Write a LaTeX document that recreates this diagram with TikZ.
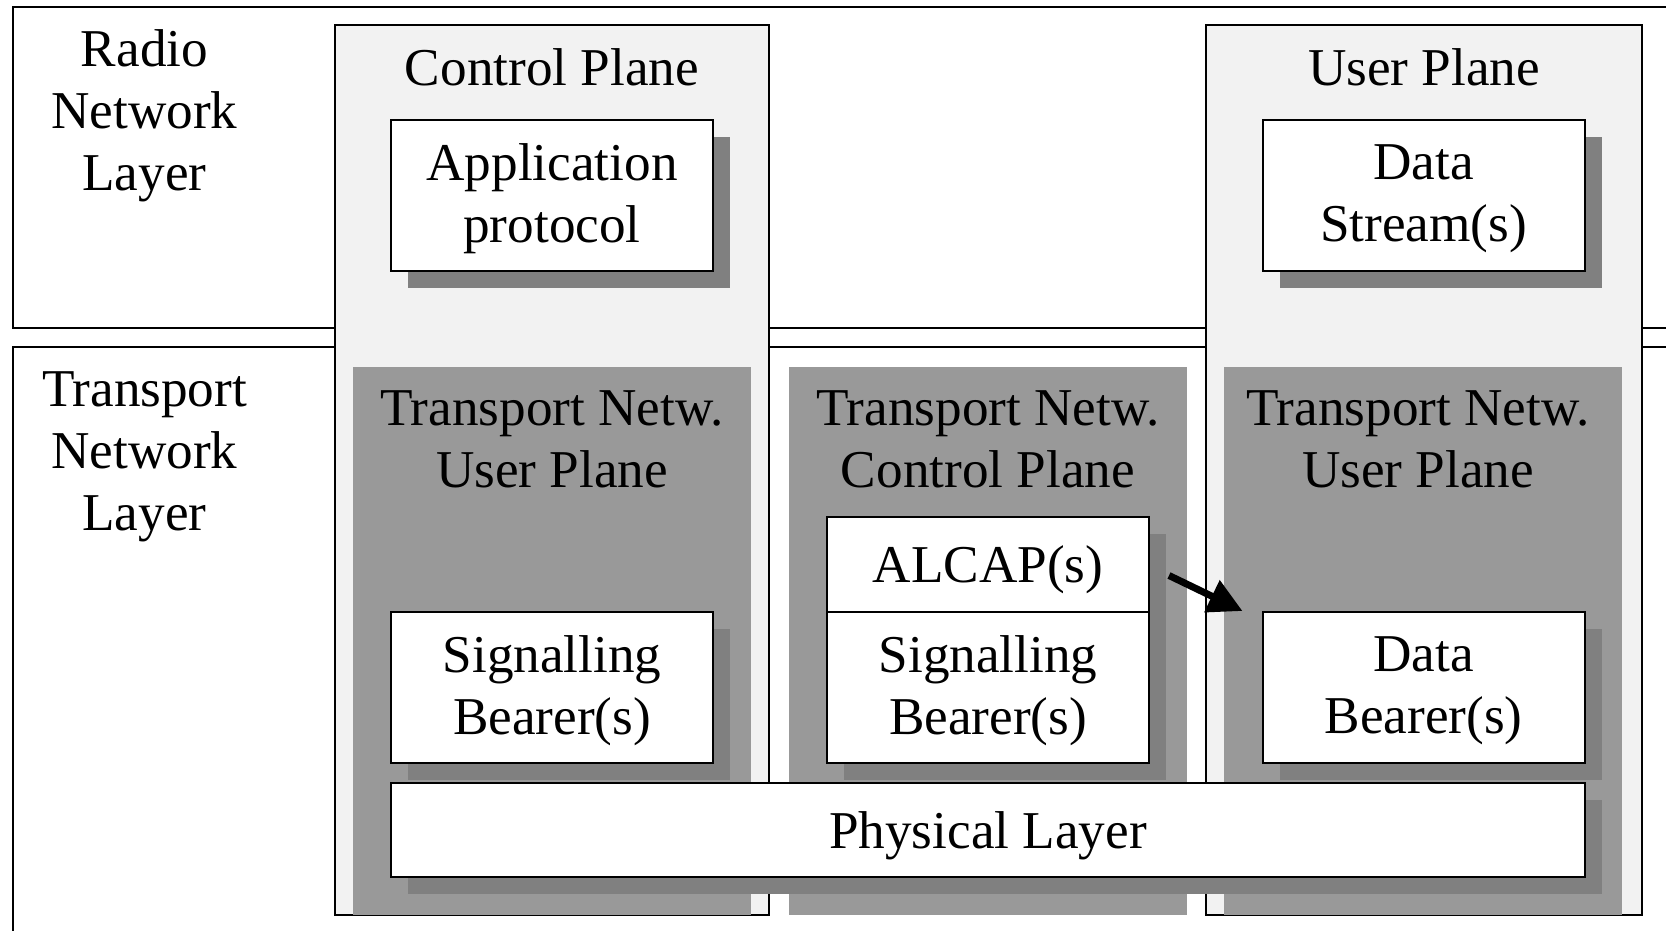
\documentclass[tikz,border=0pt]{standalone}
\usepackage{fontspec}
\setmainfont{Liberation Serif}
\usetikzlibrary{arrows.meta,shadows,calc}
\definecolor{lightc}{HTML}{F2F2F2}
\definecolor{grayc}{HTML}{999999}
\definecolor{shadowc}{HTML}{808080}
\begin{document}
\begin{tikzpicture}[x=0.5pt,y=-0.5pt,
  txt/.style={font=\fontsize{26.6}{31}\selectfont, align=center, inner sep=0pt},
  frame/.style={draw=black, line width=1pt},
  plane/.style={draw=black, line width=1pt, fill=lightc, inner sep=0pt, minimum height=445pt},
  gbox/.style={fill=grayc, inner sep=0pt, minimum width=199pt, minimum height=274pt},
  wbox/.style={draw=black, line width=1pt, fill=white, inner sep=0pt, align=center,
     font=\fontsize{26.6}{31}\selectfont, minimum width=161pt,
     drop shadow={shadow xshift=8.5pt, shadow yshift=-8.5pt, fill=shadowc, opacity=1}},
  twoline/.style={minimum height=75.5pt, text depth=2.4pt},
  oneline/.style={text depth=0pt},
  arr/.style={line width=3.5pt, -{Triangle[length=17pt,width=17pt]}}]
\useasboundingbox (0,0) rectangle (1666,931);
\clip (0,0) rectangle (1666,931);
% layer frames
\draw[frame] (13,7) rectangle (1720,328);
\draw[frame] (13,347) rectangle (1720,990);
% planes
\node[plane, minimum width=217pt] (cp) at (552,470) {};
\node[plane, minimum width=218pt] (up) at (1424,470) {};
% gray transport areas
\node[gbox] (g1) at (552,641) {};
\node[gbox] (g2) at (988,641) {};
\node[gbox] (g3) at (1423,641) {};
% titles
\node[txt] (rnl) at (144.5,115.5) {Radio\\Network\\Layer};
\node[txt] (tnl) at (144.5,457) {Transport\\Network\\Layer};
\node[txt] (cpt) at (552,67) {Control Plane};
\node[txt] (upt) at (1424,67) {User Plane};
\node[txt] (g1t) at (552,439) {Transport Netw.\\User Plane};
\node[txt] (g2t) at (988,439) {Transport Netw.\\Control Plane};
\node[txt] (g3t) at (1418,439) {Transport Netw.\\User Plane};
% white boxes
\node[wbox, twoline] (app) at (552,195.5) {Application\\protocol};
\node[wbox, twoline] (ds) at (1423.5,195.5) {Data\\Stream(s)};
\node[wbox, twoline] (s1) at (552,687.5) {Signalling\\Bearer(s)};
\node[wbox, oneline, minimum height=47.5pt] (al) at (988,564.5) {ALCAP(s)};
\node[wbox, twoline] (s2) at (988,687.5) {Signalling\\Bearer(s)};
\node[wbox, twoline] (db) at (1423.5,687.5) {Data\\Bearer(s)};
\node[wbox, oneline, minimum width=597pt, minimum height=47pt] (ph) at (988,830) {Physical Layer};
% arrow
\coordinate (arrS) at ($(al.east)+(19,11)$);
\coordinate (arrE) at ($(db.north west)+(-19,0)$);
\draw[arr] (arrS) -- (arrE);
\end{tikzpicture}
\end{document}
